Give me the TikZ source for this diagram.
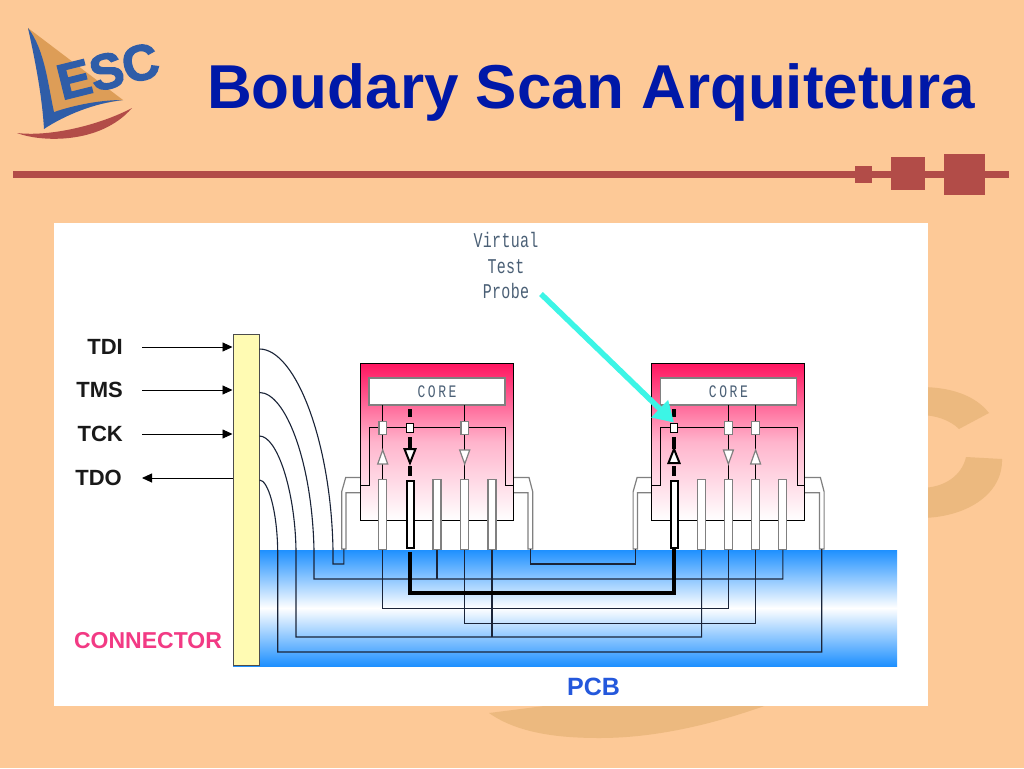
\documentclass[tikz,border=0pt]{standalone}
\usepackage{fontspec}
\setmainfont{Liberation Sans}
\newfontfamily\probefont[LetterSpace=2]{Liberation Mono}
\newfontfamily\corefont[LetterSpace=20]{Liberation Mono}
\newfontfamily\logofont[FakeBold=2.5]{Liberation Sans}
\usetikzlibrary{arrows.meta}
\definecolor{slidebg}{HTML}{FDC997}
\definecolor{markbg}{HTML}{ECB97F}
\definecolor{rulered}{HTML}{B24C48}
\definecolor{titleblue}{HTML}{0018A8}
\definecolor{logoblue}{HTML}{2F5DA8}
\definecolor{logotan}{HTML}{DD9D57}
\definecolor{pcbblue}{HTML}{1E90FF}
\definecolor{chippink}{HTML}{FF1560}
\definecolor{tracedark}{HTML}{1A2438}
\definecolor{probecyan}{HTML}{3CF5E6}
\definecolor{probetext}{HTML}{4A5F75}
\definecolor{connpink}{HTML}{F23A84}
\definecolor{pcbtext}{HTML}{2458DC}
\tikzset{
    chipbox/.style={draw=black, line width=1pt, top color=chippink, bottom color=white, middle color=chippink!32!white, minimum width=153pt, minimum height=157.4pt, inner sep=0pt},
    corebox/.style={draw=gray, line width=1.5pt, fill=white, minimum width=136pt, minimum height=27pt, inner sep=0pt, text=probetext, font=\corefont\fontsize{13}{16}\selectfont},
    pinbox/.style={draw=gray, line width=1.2pt, fill=white, minimum width=8pt, minimum height=70pt, inner sep=0pt},
    heavypin/.style={draw=black, line width=2pt, fill=white, minimum width=7pt, minimum height=67pt, inner sep=0pt},
    cellbox/.style={draw=gray, line width=1.2pt, fill=white, minimum width=7.5pt, minimum height=13pt, inner sep=0pt},
    heavycell/.style={draw=black, line width=1.8pt, fill=white, minimum width=7pt, minimum height=9pt, inner sep=0pt},
    sigline/.style={draw=black, line width=0.9pt},
    trace/.style={draw=tracedark, line width=1.1pt},
    heavytrace/.style={draw=black, line width=3.5pt},
    leadline/.style={draw=gray, line width=1.2pt, fill=white},
    sigarrow/.style={draw=black, line width=0.9pt, -{Triangle[length=10pt,width=9pt]}},
    siglabel/.style={font=\bfseries\fontsize{22}{24}\selectfont, inner sep=0pt, anchor=east, text=black!90}
}
\begin{document}
\begin{tikzpicture}[x=1pt,y=-1pt]
        \useasboundingbox (0,0) rectangle (1024,768);
        \fill[slidebg] (0,0) rectangle (1024,768);
        % watermark behind the panel
        \fill[markbg] (989,413) .. controls (975,395) and (950,387) .. (920,387) -- (920,518)
            .. controls (965,518) and (1003,495) .. (1002,459) -- (966,457)
            .. controls (962,475) and (945,488) .. (920,488) -- (920,415)
            .. controls (935,415) and (950,420) .. (959,429) -- cycle;
        \fill[markbg] (489,713) .. controls (520,735) and (565,738) .. (600,738)
            .. controls (660,738) and (720,722) .. (770,704) -- (560,704) -- cycle;
        % logo
        \fill[logotan] (28,28) -- (123,100) -- (53,112) -- cycle;
        \fill[logoblue] (28,28) .. controls (35,60) and (42,95) .. (44,129)
            .. controls (65,115) and (95,103) .. (123,100)
            .. controls (100,100) and (75,105) .. (54,112)
            .. controls (48,85) and (45,50) .. (28,28) -- cycle;
        \fill[rulered] (17,133) .. controls (40,142) and (100,145) .. (132,108)
            .. controls (100,125) and (50,137) .. (17,133) -- cycle;
        \node[rotate=14, inner sep=0pt, text=logoblue, font=\logofont\bfseries\fontsize{50}{52}\selectfont] (logo) at (108,71) {ESC};
        \node[anchor=base west, inner sep=0pt, text=titleblue, font=\bfseries\fontsize{62}{70}\selectfont] (title) at (207,108) {Boudary Scan Arquitetura};
        % rule
        \fill[rulered] (13,171) rectangle (1009,177.5);
        \fill[rulered] (855,165.7) rectangle (872,182.7);
        \fill[rulered] (891,157) rectangle (925,190);
        \fill[rulered] (943.7,153.7) rectangle (985,195);
        % panel and board
        \fill[white] (54,223) rectangle (928,706);
        \shade[top color=pcbblue, bottom color=pcbblue, middle color=white] (233,550) rectangle (897,666);
        \node[draw=black!70, line width=1pt, fill=yellow!30!white, minimum width=26pt, minimum height=330.5pt, inner sep=0pt] (conn) at (246,500) {};
        % the two chips
        \foreach \c/\dx in {a/0,b/291.4}{
            \begin{scope}[xshift=\dx pt]
                \draw[leadline] (360.3,477.5) -- (345.7,477.5) -- (341.7,491.7) -- (341.7,549) -- (346,549) -- (346,492.7) -- (360.3,492.7);
                \draw[leadline] (513.3,477.5) -- (529,477.5) -- (532.7,491.7) -- (532.7,549) -- (528,549) -- (528,492.7) -- (513.3,492.7);
                \coordinate (\c l) at (343.8,549);
                \coordinate (\c r) at (530.3,549);
                \node[chipbox] (chip\c) at (436.8,442) {};
                \node[corebox] (core\c) at (437,391.5) {\scalebox{1}[1.35]{CORE}};
                \draw[sigline] (360.3,485) -- (369,485) |- (505.7,427.7) -- (505.7,485) -- (513.3,485);
            \end{scope}
        }
        \foreach \p/\x in {a1/382.7,a3/437,a4/464.7,a5/492,b2/701.6,b3/728.4,b4/755.6,b5/782.8}{
            \node[pinbox] (\p) at (\x,514.3) {};
        }
        \node[heavypin] (a2) at (410,514.3) {};
        \node[heavypin] (b1) at (674,514.3) {};
        % test cells
        \foreach \p/\ya/\dy in {a1/450/14,a4/464/-14,b3/464/-14,b4/450/14}{
            \draw[sigline] (\p.north) -- (\p |- 0,405);
            \node[cellbox] (cell\p) at (\p |- 0,427.7) {};
            \draw[draw=gray, line width=1.2pt, fill=white] (\p |- 0,\ya) -- ++(-5,\dy) -- ++(10,0) -- cycle;
        }
        \foreach \p/\ya/\dy in {a2/463/-14,b1/449/14}{
            \draw[heavytrace] (\p |- 0,409) -- (\p |- 0,417);
            \draw[heavytrace] (\p |- 0,437) -- (\p |- 0,449);
            \draw[heavytrace] (\p |- 0,466) -- (\p |- 0,476);
            \node[heavycell] (cell\p) at (\p |- 0,428) {};
            \draw[draw=black, line width=2pt, fill=white] (\p |- 0,\ya) -- ++(-5.5,\dy) -- ++(11,0) -- cycle;
        }
        % board traces
        \draw[trace] (conn.east |- 0,349) .. controls (295,349) and (331,440) .. (333,550) -- (333,564) -| (al);
        \draw[trace] (conn.east |- 0,392.5) .. controls (285,392.5) and (312,460) .. (314,550) -- (314,579) -| (b5.south);
        \draw[trace] (conn.east |- 0,436) .. controls (277,436) and (295,490) .. (296,550) -- (296,637) -| (b2.south);
        \draw[trace] (conn.east |- 0,480) .. controls (268,480) and (277,510) .. (277.7,550) -- (277.7,652) -| (br);
        \draw[trace] (a1.south) -- ++(0,59) -| (b3.south);
        \draw[trace] (a3.south) -- (a3 |- 0,579);
        \draw[trace] (a4.south) -- ++(0,73.5) -| (b4.south);
        \draw[trace] (a5.south) -- (a5 |- 0,637);
        \draw[trace] (ar) -- ++(0,15) -| (bl);
        \draw[heavytrace, shorten <=3pt] (a2.south) -- ++(0,44) -| (b1.south);
        % test pins at the connector
        \node[siglabel] (tdi) at (123,347) {TDI};
        \node[siglabel] (tms) at (123,390) {TMS};
        \node[siglabel] (tck) at (123,434) {TCK};
        \node[siglabel] (tdo) at (122,478) {TDO};
        \draw[sigarrow, shorten <=19pt] (tdi.east) -- (tdi.east -| conn.west);
        \draw[sigarrow, shorten <=19pt] (tms.east) -- (tms.east -| conn.west);
        \draw[sigarrow, shorten <=19pt] (tck.east) -- (tck.east -| conn.west);
        \draw[sigarrow, shorten >=20pt] (conn.west |- tdo.east) -- (tdo.east);
        \node[inner sep=0pt, text=probetext, font=\probefont\fontsize{15}{18}\selectfont] (probe) at (506,268)
            {\scalebox{1}[1.4]{\begin{tabular}{@{}c@{}}Virtual\\Test\\Probe\end{tabular}}};
        \coordinate (probefrom) at (541,294);
        \draw[draw=probecyan, line width=5.5pt, -{Triangle[length=20pt,width=23pt]}] (probefrom) -- (cellb1.north);
        \node[inner sep=0pt, text=connpink, font=\bfseries\fontsize{23}{25}\selectfont] (connlabel) at (148,641) {CONNECTOR};
        \node[inner sep=0pt, text=pcbtext, font=\bfseries\fontsize{25}{27}\selectfont] (pcblabel) at (593.5,687) {PCB};
\end{tikzpicture}
\end{document}
